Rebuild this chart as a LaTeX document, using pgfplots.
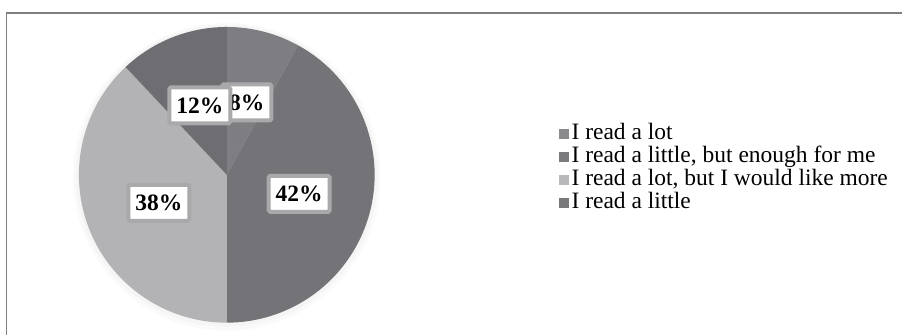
\documentclass[border=0pt]{standalone}
\usepackage{pgfplots}
\pgfplotsset{compat=1.18}
\usepackage{fontspec}
\setmainfont{Liberation Serif}
\definecolor{cA}{HTML}{7E7E82}
\definecolor{cB}{HTML}{747478}
\definecolor{cC}{HTML}{B3B3B6}
\definecolor{cD}{HTML}{6E6E72}
\definecolor{lbA}{HTML}{8B8B8E}
\definecolor{lbB}{HTML}{7B7B7E}
\definecolor{lbC}{HTML}{B8B8BB}
\definecolor{lbD}{HTML}{78787B}
\definecolor{boxborder}{HTML}{A9A9AC}
\definecolor{frame}{HTML}{7F7F7F}
% shares (percent), clockwise from 12 o'clock
\def\pA{8}  % I read a lot
\def\pB{42} % I read a little, but enough for me
\def\pC{38} % I read a lot, but I would like more
\def\pD{12} % I read a little
\begin{document}
\begin{tikzpicture}
\begin{axis}[
  width=903bp, height=335bp, scale only axis,
  xmin=0, xmax=903, ymin=0, ymax=335,
  axis lines=none, ticks=none, clip=false,
  legend style={at={(axis cs:559,211.5)}, anchor=north west, draw=none, fill=none,
    font=\fontsize{23.5bp}{23bp}\selectfont, inner sep=0pt, row sep=0pt, column sep=3bp,
    nodes={inner sep=0pt, text height=16bp, text depth=7bp}},
  legend cell align=left,
  legend image code/.code={\fill[#1] (0bp,-4bp) rectangle (10bp,6bp);},
]
\path (axis cs:0,0) rectangle (axis cs:903,335);
% frame
\draw[frame, line width=1.8bp] (axis cs:6.5,0) -- (axis cs:6.5,322) -- (axis cs:903,322);
% soft shadow
\fill[black!2] (axis cs:227,158) circle[radius=154bp];
\fill[black!4] (axis cs:227,159) circle[radius=151bp];
% slices
\fill[cA] (axis cs:227,160) -- ++(90:148bp) arc[start angle=90, end angle={90-3.6*\pA}, radius=148bp] -- cycle;
\fill[cB] (axis cs:227,160) -- ++({90-3.6*\pA}:148bp) arc[start angle={90-3.6*\pA}, end angle={90-3.6*(\pA+\pB)}, radius=148bp] -- cycle;
\fill[cC] (axis cs:227,160) -- ++({90-3.6*(\pA+\pB)}:148bp) arc[start angle={90-3.6*(\pA+\pB)}, end angle={90-3.6*(\pA+\pB+\pC)}, radius=148bp] -- cycle;
\fill[cD] (axis cs:227,160) -- ++({90-3.6*(\pA+\pB+\pC)}:148bp) arc[start angle={90-3.6*(\pA+\pB+\pC)}, end angle={90-3.6*(\pA+\pB+\pC+\pD)}, radius=148bp] -- cycle;
% data labels
\tikzset{lbl/.style={fill=white, draw=boxborder, line width=4bp, rounded corners=1.5bp,
  inner xsep=7bp, inner ysep=10bp, text height=16bp, text depth=0bp,
  font=\fontsize{23.5bp}{25bp}\selectfont\bfseries, anchor=center}}
\node[lbl] at (axis cs:247,232.5) {\pA\%};
\node[lbl] at (axis cs:200,229.5) {\pD\%};
\node[lbl] at (axis cs:299.5,141) {\pB\%};
\node[lbl] at (axis cs:159,132) {\pC\%};
% legend
\addlegendimage{fill=lbA, draw=none}
\addlegendentry{I read a lot}
\addlegendimage{fill=lbB, draw=none}
\addlegendentry{I read a little, but enough for me}
\addlegendimage{fill=lbC, draw=none}
\addlegendentry{I read a lot, but I would like more}
\addlegendimage{fill=lbD, draw=none}
\addlegendentry{I read a little}
\end{axis}
\end{tikzpicture}
\end{document}
